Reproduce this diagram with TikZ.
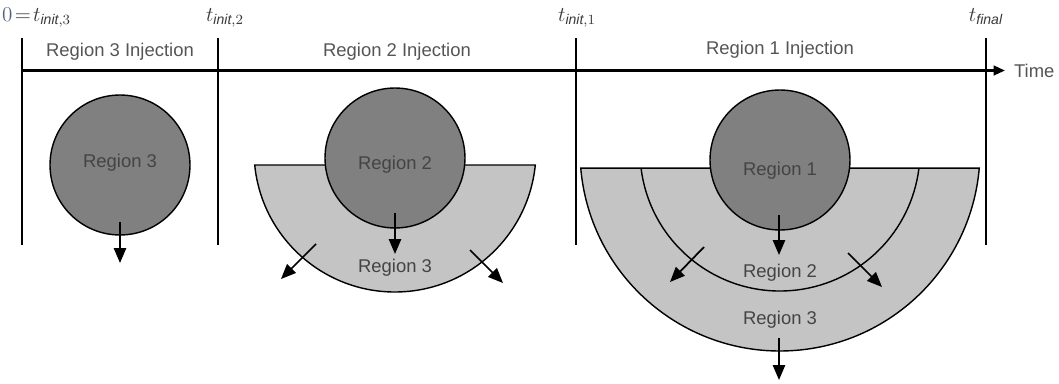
\documentclass[tikz,border=0pt]{standalone}
\usepackage{fontspec}
\setmainfont{Liberation Sans}
\usetikzlibrary{arrows.meta}
\definecolor{darkfill}{HTML}{808080}
\definecolor{lightfill}{HTML}{C4C4C4}
\definecolor{txt}{HTML}{444444}
\definecolor{inj}{HTML}{555555}
\definecolor{lblblue}{HTML}{4F6480}
\definecolor{lbl}{HTML}{3A3A3A}
\begin{document}
\begin{tikzpicture}[x=0.02cm,y=0.02cm,
  reg/.style={font=\fontsize{10.5}{12}\selectfont, text=txt, inner sep=1pt},
  injlbl/.style={font=\fontsize{10.5}{12}\selectfont, text=inj, inner sep=1pt},
  tlbl/.style={font=\large, text=lbl, inner sep=1pt},
  bar/.style={line width=1.4pt},
  blob/.style={circle, draw=black, line width=0.8pt, fill=darkfill, minimum size=2.8cm, inner sep=0pt},
  shell/.style={draw=black, line width=0.8pt, fill=lightfill},
  flow/.style={line width=1pt, -{Triangle[length=8.5pt,width=7pt]}}
]
\useasboundingbox (0,0) rectangle (1059,383);

% time axis
\coordinate (ax0) at (22,312.5);
\coordinate (ax1) at (1005,312.5);
\draw[bar, -{Triangle[length=6.5pt,width=5.5pt]}] (ax0) -- (ax1);
\node[font=\fontsize{10.5}{12}\selectfont, text=inj, anchor=west, inner sep=1pt] (time) at (1012,312.5) {Time};

% vertical bars
\foreach \n/\x in {v3/22, v2/218, v1/576, vf/986}{
  \coordinate (\n t) at (\x,345);
  \coordinate (\n b) at (\x,138);
  \draw[bar] (\n t) -- (\n b);
}

% time labels
\node[tlbl, anchor=base west] (l3) at (0,362) {$\textcolor{lblblue}{0}\!=\!t_{\mathit{init},3}$};
\node[tlbl, anchor=base] (l2) at (225,362) {$t_{\mathit{init},2}$};
\node[tlbl, anchor=base] (l1) at (577,362) {$t_{\mathit{init},1}$};
\node[tlbl, anchor=base] (lf) at (986,362) {$t_{\mathit{final}}$};

% injection labels
\node[injlbl] (i3) at (120,331) {Region 3 Injection};
\node[injlbl] (i2) at (397,331) {Region 2 Injection};
\node[injlbl] (i1) at (780,333) {Region 1 Injection};

% panel 3
\node[blob] (c3) at (120,218) {};
\node[reg] (t3a) at (120,220) {Region 3};
\coordinate (a3s) at (120,161);
\coordinate (a3e) at (120,120);
\draw[flow] (a3s) -- (a3e);

% panel 2
\draw[shell] (395,232) ++(185.7:141) arc[start angle=185.7, end angle=354.3, radius=141] -- cycle;
\node[blob] (c2) at (395,225) {};
\node[reg] (t2a) at (395,218) {Region 2};
\node[reg] (t2b) at (395,115) {Region 3};
\coordinate (b1s) at (395,170); \coordinate (b1e) at (395,129);
\coordinate (b2s) at (316,139); \coordinate (b2e) at (281,104);
\coordinate (b3s) at (470,133); \coordinate (b3e) at (503,100);
\draw[flow] (b1s) -- (b1e);
\draw[flow] (b2s) -- (b2e);
\draw[flow] (b3s) -- (b3e);

% panel 1
\draw[shell] (780,232) ++(184.9:200) arc[start angle=184.9, end angle=355.1, radius=200] -- cycle;
\draw[line width=0.8pt] (780,232) ++(186.97:140) arc[start angle=186.97, end angle=353.03, radius=140];
\node[blob] (c1) at (780,223) {};
\node[reg] (t1a) at (780,212) {Region 1};
\node[reg] (t1b) at (780,110) {Region 2};
\node[reg] (t1c) at (780,63) {Region 3};
\coordinate (d1s) at (779,168); \coordinate (d1e) at (779,128);
\coordinate (d2s) at (704,136); \coordinate (d2e) at (670,101);
\coordinate (d3s) at (848,130); \coordinate (d3e) at (882,96);
\coordinate (d4s) at (779,45);  \coordinate (d4e) at (779,3);
\draw[flow] (d1s) -- (d1e);
\draw[flow] (d2s) -- (d2e);
\draw[flow] (d3s) -- (d3e);
\draw[flow] (d4s) -- (d4e);
\end{tikzpicture}
\end{document}
